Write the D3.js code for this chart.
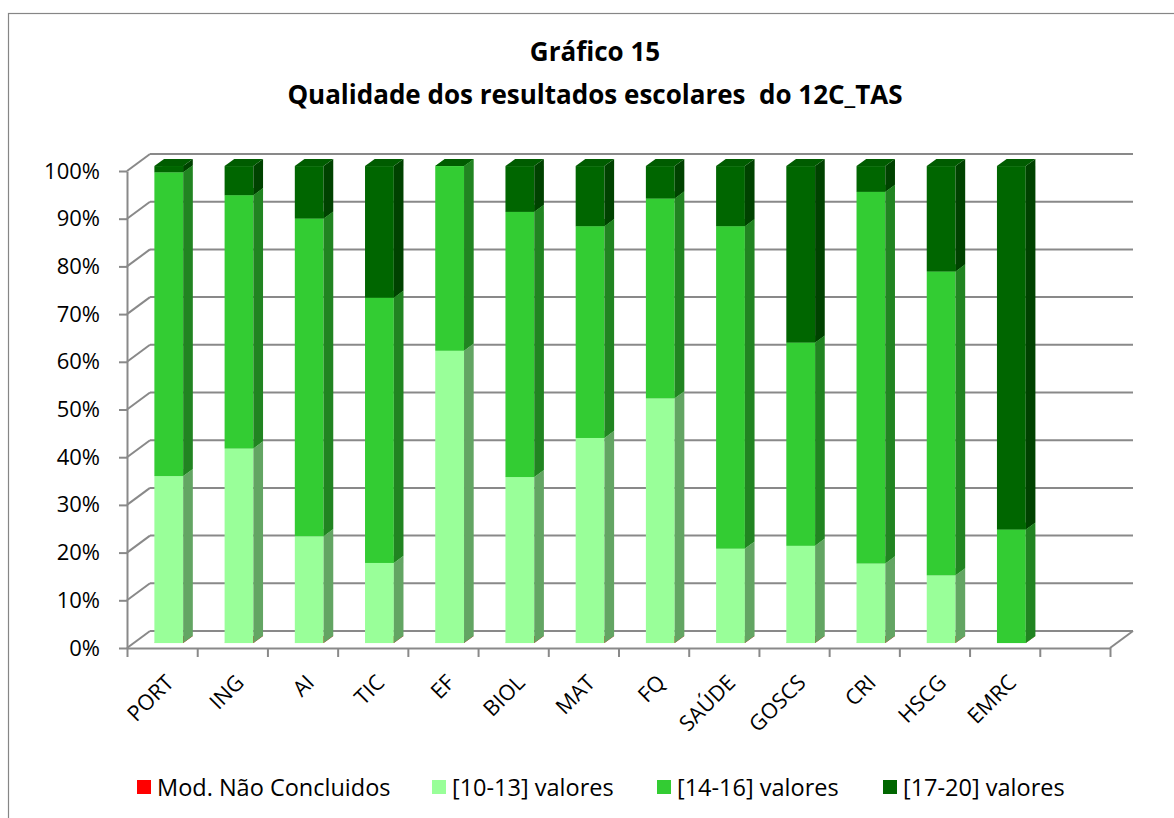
<!DOCTYPE html>
<html>
<head>
<meta charset="utf-8">
<script src="https://cdn.jsdelivr.net/npm/d3@7"></script>
<style>
  html, body { margin: 0; padding: 0; background: #fff; }
  svg { display: block; font-family: "Open Sans", "Liberation Sans", sans-serif; }
</style>
</head>
<body>
<svg id="chart" width="1174" height="818"></svg>
<script>
// ---- data ----
const titleLines = ["Gráfico 15", "Qualidade dos resultados escolares  do 12C_TAS"];
const categories = ["PORT", "ING", "AI", "TIC", "EF", "BIOL", "MAT", "FQ", "SAÚDE", "GOSCS", "CRI", "HSCG", "EMRC"];
const emptySlots = [" "];
const seriesNames = ["Mod. Não Concluidos", "[10-13] valores", "[14-16] valores", "[17-20] valores"];
const modNaoConcluidos = [0, 0, 0, 0, 0, 0, 0, 0, 0, 0, 0, 0, 0];
const valores10_13 = [35.0, 40.8, 22.4, 16.8, 61.3, 34.8, 43.0, 51.3, 19.8, 20.4, 16.7, 14.2, 0];
const valores14_16 = [63.7, 53.1, 66.6, 55.6, 38.7, 55.6, 44.4, 41.9, 67.6, 42.6, 77.9, 63.7, 23.8];
const valores17_20 = [1.3, 6.1, 11.0, 27.6, 0, 9.6, 12.6, 6.8, 12.6, 37.0, 5.4, 22.1, 76.2];
const yTickValues = [0, 0.1, 0.2, 0.3, 0.4, 0.5, 0.6, 0.7, 0.8, 0.9, 1.0];

// ---- styles ----
const faceColors = ["#FF0000", "#99FF99", "#33CC33", "#006600"];
const sideColors = ["#A00000", "#63A563", "#218421", "#004200"];
const topColors  = ["#E00000", "#8AE68A", "#2DB82D", "#005C00"];
const gridColor = "#898989";

const svg = d3.select("#chart");

// frame
svg.append("rect").attr("x", 8.5).attr("y", 13.5).attr("width", 1300).attr("height", 900)
  .attr("fill", "#fff").attr("stroke", "#868686").attr("stroke-width", 1.2);

// title
svg.selectAll("text.title").data(titleLines).join("text")
  .attr("class", "title")
  .attr("x", 595).attr("y", (d, i) => 61 + i * 43)
  .attr("text-anchor", "middle")
  .style("white-space", "pre")
  .attr("font-weight", "bold").attr("font-size", 26).attr("fill", "#000")
  .text(d => d);

// geometry
const x0 = 127, x1 = 1110, yBottom = 648, yTop = 171;
const depthDx = 23, depthDy = -17;
const barFront = 0.29, barBack = 0.71, barWidthFrac = 0.41;

const x = d3.scaleBand().domain(categories.concat(emptySlots)).range([x0, x1]).padding(0);
const y = d3.scaleLinear().domain([0, 1]).range([yBottom, yTop]);

const grid = svg.append("g");
// back wall grid lines
grid.selectAll("line.h").data(yTickValues).join("line")
  .attr("x1", x0 + depthDx).attr("x2", x1 + depthDx)
  .attr("y1", d => y(d) + depthDy).attr("y2", d => y(d) + depthDy)
  .attr("stroke", gridColor).attr("stroke-width", 2);
// side wall diagonals
grid.selectAll("line.d").data(yTickValues).join("line")
  .attr("x1", x0).attr("x2", x0 + depthDx)
  .attr("y1", d => y(d)).attr("y2", d => y(d) + depthDy)
  .attr("stroke", gridColor).attr("stroke-width", 2);
// floor right edge
grid.append("line").attr("x1", x1).attr("y1", y(0)).attr("x2", x1 + depthDx).attr("y2", y(0) + depthDy)
  .attr("stroke", gridColor).attr("stroke-width", 2);

// y axis
const yAxis = svg.append("g").attr("transform", `translate(${x0},0)`)
  .call(d3.axisLeft(y).tickValues(yTickValues).tickFormat(d3.format(".0%")).tickSize(8).tickPadding(19).tickSizeOuter(0));
yAxis.select(".domain").attr("stroke", gridColor).attr("stroke-width", 2);
yAxis.selectAll(".tick line").attr("stroke", gridColor).attr("stroke-width", 2);
yAxis.selectAll(".tick text").attr("font-size", 22).attr("fill", "#000")
  .attr("font-family", "Open Sans, sans-serif");

// x axis (ticks at band boundaries)
const xb = d3.scaleLinear().domain([0, x.domain().length]).range([x0, x1]);
const xAxis = svg.append("g").attr("transform", `translate(0,${yBottom})`)
  .call(d3.axisBottom(xb).ticks(x.domain().length).tickFormat("").tickSize(9).tickSizeOuter(0));
xAxis.select(".domain").attr("stroke", gridColor).attr("stroke-width", 2);
xAxis.selectAll(".tick line").attr("stroke", gridColor).attr("stroke-width", 2);

// x labels
svg.selectAll("text.xl").data(categories).join("text")
  .attr("class", "xl")
  .attr("transform", d => `translate(${x(d) + x.bandwidth() / 2 + 13},${yBottom + 36}) rotate(-45)`)
  .attr("text-anchor", "end")
  .attr("font-size", 21.5).attr("fill", "#000")
  .text(d => d);

// stacked 3D bars
const seriesValues = [modNaoConcluidos, valores10_13, valores14_16, valores17_20];
const rows = categories.map((c, i) => {
  const r = { cat: c };
  seriesValues.forEach((s, k) => r["s" + k] = s[i] / 100);
  return r;
});
const stack = d3.stack().keys(seriesValues.map((s, k) => "s" + k))(rows);

const bw = x.bandwidth() * barWidthFrac;
const fdx = depthDx * barFront, fdy = depthDy * barFront;
const ddx = depthDx * (barBack - barFront), ddy = depthDy * (barBack - barFront);

const barsG = svg.append("g");
categories.forEach((c, i) => {
  const g = barsG.append("g");
  const bx = x(c) + (x.bandwidth() - bw) / 2 + fdx;
  stack.forEach((layer, k) => {
    const lo = y(layer[i][0]) + fdy, hi = y(layer[i][1]) + fdy;
    const h = lo - hi;
    if (h > 0) {
      g.append("rect").attr("x", bx).attr("y", hi).attr("width", bw).attr("height", h)
        .attr("fill", faceColors[k]);
      g.append("path")
        .attr("d", `M${bx + bw},${hi} L${bx + bw + ddx},${hi + ddy} L${bx + bw + ddx},${lo + ddy} L${bx + bw},${lo} Z`)
        .attr("fill", sideColors[k]);
    }
    g.append("path")
      .attr("d", `M${bx},${hi} L${bx + ddx},${hi + ddy} L${bx + bw + ddx},${hi + ddy} L${bx + bw},${hi} Z`)
      .attr("fill", topColors[k]);
  });
});

// legend
const legendX = [137, 432, 657, 883];
const lg = svg.append("g");
seriesNames.forEach((n, k) => {
  lg.append("rect").attr("x", legendX[k]).attr("y", 780).attr("width", 14).attr("height", 14).attr("fill", faceColors[k]);
  lg.append("text").attr("x", legendX[k] + 20).attr("y", 796).attr("font-size", 23.5).attr("fill", "#000").text(n);
});
</script>
</body>
</html>
